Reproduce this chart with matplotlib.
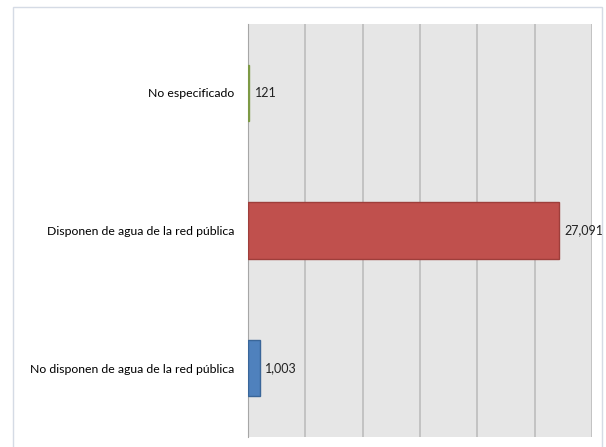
import matplotlib.pyplot as plt
from matplotlib.patches import Rectangle

categories = [
    "No disponen de agua de la red pública",
    "Disponen de agua de la red pública",
    "No especificado",
]
values = [1003, 27091, 121]
labels = ["1,003", "27,091", "121"]
colors = ["#4F81BD", "#C0504D", "#9BBB59"]
edges = ["#3A6699", "#9E3E3B", "#7D9A45"]

plt.rcParams["font.family"] = ["Lato", "DejaVu Sans"]

fig = plt.figure(figsize=(6.06, 4.47), dpi=100)
fig.patches.append(
    Rectangle((13 / 606, -0.01), 589 / 606, 1 - 7 / 447 + 0.01,
              transform=fig.transFigure, fill=False,
              edgecolor="#D5DBE5", linewidth=1.0)
)
ax = fig.add_axes([248 / 606, 10 / 447, 344 / 606, 413 / 447])
ax.set_facecolor("#E6E6E6")

y = range(len(categories))
ax.barh(y, values, height=0.41, color=colors, edgecolor=edges, linewidth=1.0, zorder=3)
for i, (v, t) in enumerate(zip(values, labels)):
    ax.text(v + 500, i, t, va="center", ha="left", fontsize=9, color="#222222", zorder=4)

ax.set_xlim(0, 30000)
ax.set_ylim(-0.5, 2.5)
ax.set_xticks(range(0, 30001, 5000))
ax.set_xticklabels([])
ax.tick_params(axis="x", length=0)
ax.tick_params(axis="y", length=0, pad=10, labelsize=8.8)
ax.set_yticks(list(y))
ax.set_yticklabels(categories)
ax.grid(axis="x", color="#BDBDBD", linewidth=1.2, zorder=0)
for s in ["top", "right", "bottom"]:
    ax.spines[s].set_visible(False)
ax.spines["left"].set_color("#A6A6A6")

fig.savefig("out.png", dpi=100)
